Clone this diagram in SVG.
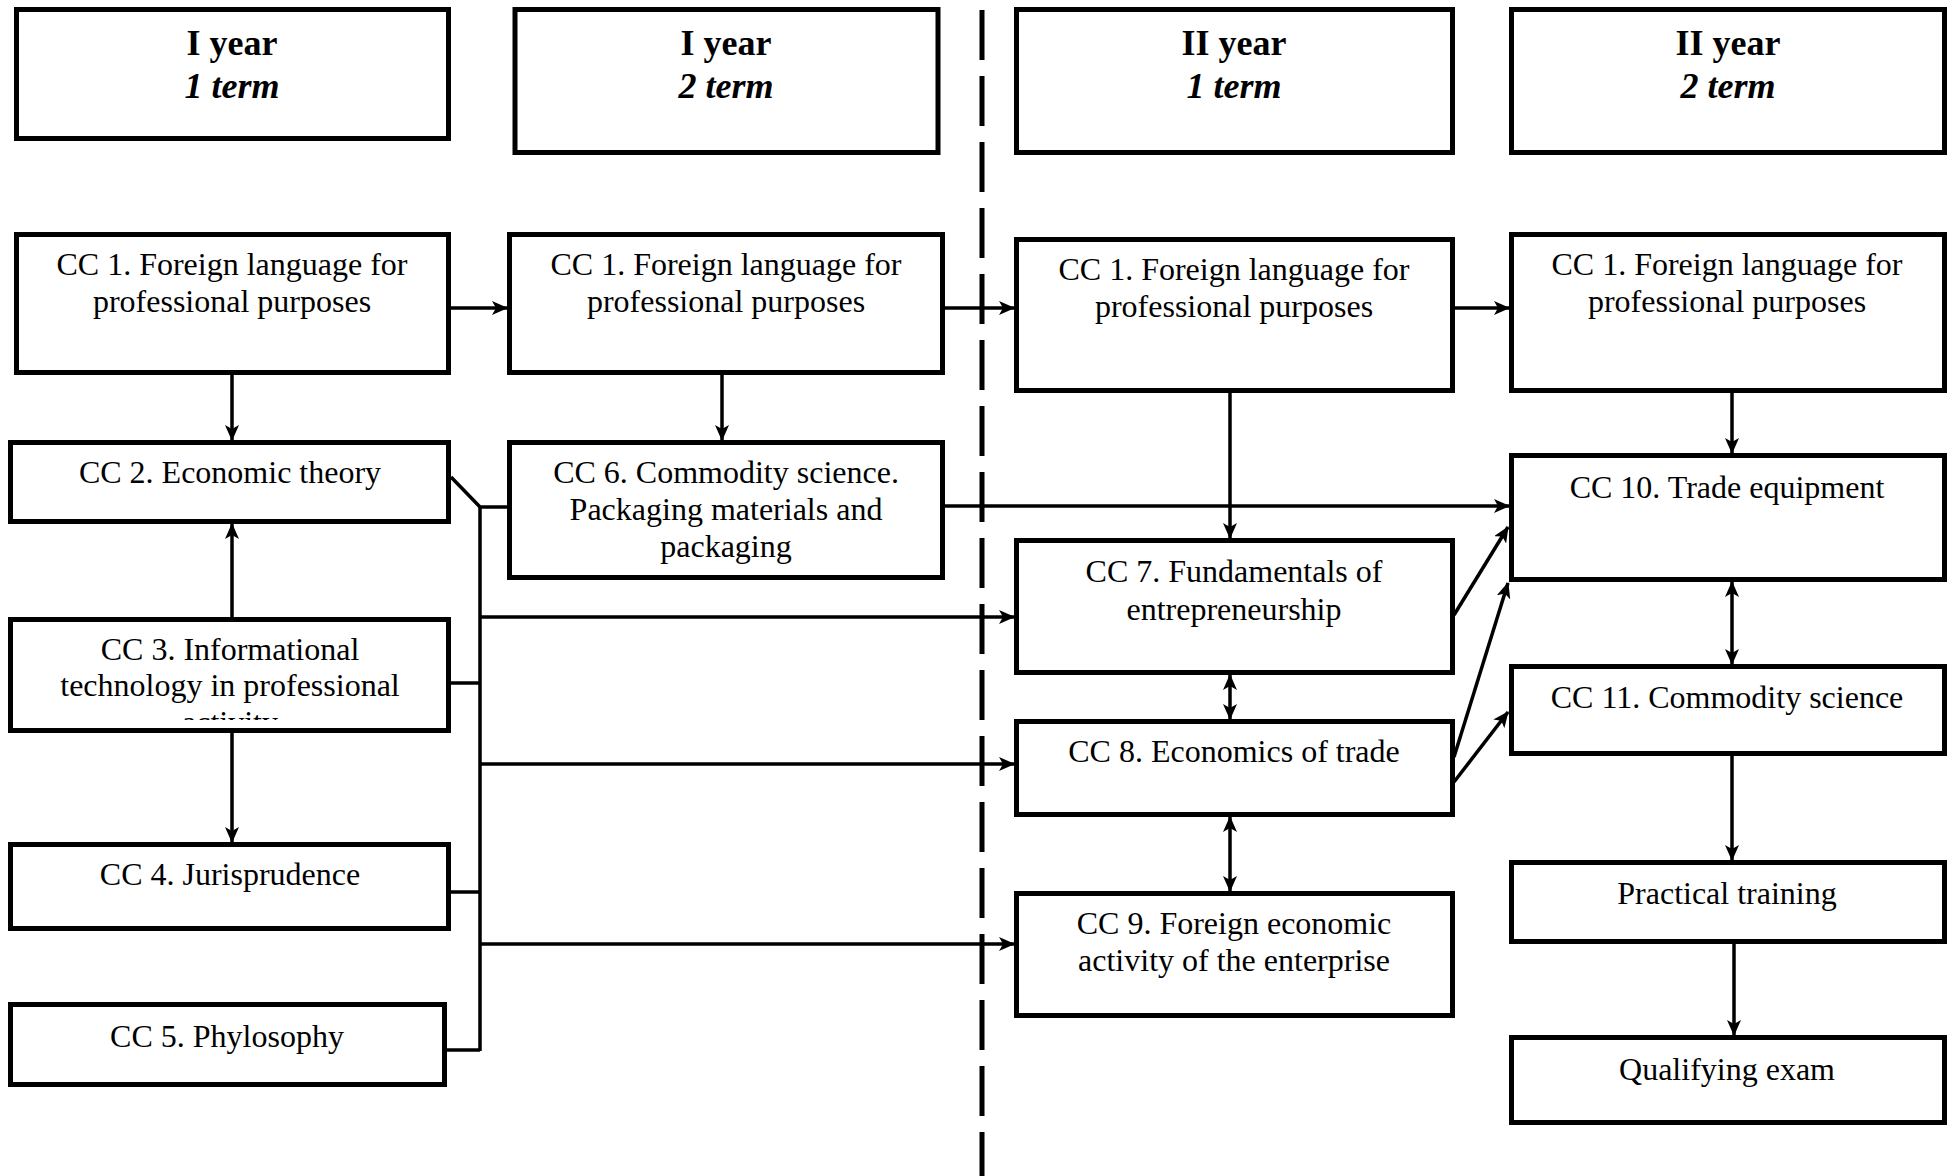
<svg xmlns="http://www.w3.org/2000/svg" width="1954" height="1176" viewBox="0 0 1954 1176">
<style>
.box{fill:#fff;stroke:#000;stroke-width:5}
.t{font-family:"Liberation Serif","Times New Roman",serif;font-size:32px;text-anchor:middle;fill:#000}
.h1{font-family:"Liberation Serif","Times New Roman",serif;font-size:36px;font-weight:bold;text-anchor:middle;fill:#000}
.h2{font-family:"Liberation Serif","Times New Roman",serif;font-size:36px;font-weight:bold;font-style:italic;text-anchor:middle;fill:#000}
.c{fill:none;stroke:#000;stroke-width:3.5}
.a{fill:none;stroke:#000;stroke-width:3.5;marker-end:url(#ah)}
.d{fill:none;stroke:#000;stroke-width:3.5;marker-start:url(#ah);marker-end:url(#ah)}
</style>
<defs>
<marker id="ah" markerUnits="userSpaceOnUse" markerWidth="16" markerHeight="14" viewBox="0 0 16 14" refX="15" refY="7" orient="auto-start-reverse">
<path d="M0,0 L16,7 L0,14 L4,7 z" fill="#000"/>
</marker>
<clipPath id="clip3"><rect x="10" y="600" width="440" height="120"/></clipPath>
</defs>
<rect width="1954" height="1176" fill="#fff"/>

<line x1="982" y1="10" x2="982" y2="1176" stroke="#000" stroke-width="5" stroke-dasharray="50 16"/>

<g id="header1"><rect class="box" x="16.5" y="9.5" width="432" height="129"/><text class="h1" x="232" y="55">I year</text><text class="h2" x="232" y="98">1 term</text></g>
<g id="header2"><rect class="box" x="515" y="9.5" width="423" height="143"/><text class="h1" x="726" y="55">I year</text><text class="h2" x="726" y="98">2 term</text></g>
<g id="header3"><rect class="box" x="1016.5" y="9.5" width="436" height="143"/><text class="h1" x="1234" y="55">II year</text><text class="h2" x="1234" y="98">1 term</text></g>
<g id="header4"><rect class="box" x="1511.5" y="9.5" width="433" height="143"/><text class="h1" x="1728" y="55">II year</text><text class="h2" x="1728" y="98">2 term</text></g>

<g id="connectors">
<line class="a" x1="451" y1="308" x2="507" y2="308"/>
<line class="a" x1="945" y1="308" x2="1014" y2="308"/>
<line class="a" x1="1455" y1="308" x2="1509" y2="308"/>
<line class="a" x1="232" y1="375" x2="232" y2="440"/>
<line class="a" x1="722" y1="375" x2="722" y2="440"/>
<line class="a" x1="232" y1="617" x2="232" y2="524"/>
<line class="a" x1="232" y1="733" x2="232" y2="842"/>
<line class="a" x1="1230" y1="393" x2="1230" y2="538"/>
<line class="a" x1="1732" y1="393" x2="1732" y2="453"/>
<line class="a" x1="945" y1="506" x2="1509" y2="506"/>
<polyline class="c" points="451,477 480,507 507,507"/>
<line class="c" x1="480" y1="507" x2="480" y2="1051"/>
<line class="c" x1="451" y1="683" x2="480" y2="683"/>
<line class="c" x1="451" y1="892" x2="480" y2="892"/>
<line class="c" x1="447" y1="1050" x2="480" y2="1050"/>
<line class="a" x1="480" y1="617" x2="1014" y2="617"/>
<line class="a" x1="480" y1="764" x2="1014" y2="764"/>
<line class="a" x1="480" y1="944" x2="1014" y2="944"/>
<line class="d" x1="1230" y1="675" x2="1230" y2="719"/>
<line class="d" x1="1230" y1="817" x2="1230" y2="891"/>
<line class="d" x1="1732" y1="582" x2="1732" y2="664"/>
<line class="a" x1="1732" y1="756" x2="1732" y2="860"/>
<line class="a" x1="1734" y1="944" x2="1734" y2="1035"/>
<line class="a" x1="1454" y1="615" x2="1508" y2="527"/>
<line class="a" x1="1454" y1="757" x2="1508" y2="583"/>
<line class="a" x1="1454" y1="782" x2="1508" y2="712"/>
</g>

<g id="cc1a"><rect class="box" x="16.5" y="234.5" width="432" height="138"/><text class="t" x="232" y="275">CC 1. Foreign language for</text><text class="t" x="232" y="312">professional purposes</text></g>
<g id="cc1b"><rect class="box" x="509.5" y="234.5" width="433" height="138"/><text class="t" x="726" y="275">CC 1. Foreign language for</text><text class="t" x="726" y="312">professional purposes</text></g>
<g id="cc1c"><rect class="box" x="1016.5" y="239.5" width="436" height="151"/><text class="t" x="1234" y="280">CC 1. Foreign language for</text><text class="t" x="1234" y="317">professional purposes</text></g>
<g id="cc1d"><rect class="box" x="1511.5" y="234.5" width="433" height="156"/><text class="t" x="1727" y="275">CC 1. Foreign language for</text><text class="t" x="1727" y="312">professional purposes</text></g>
<g id="cc2"><rect class="box" x="10.5" y="442.5" width="438" height="79"/><text class="t" x="230" y="483">CC 2. Economic theory</text></g>
<g id="cc6"><rect class="box" x="509.5" y="442.5" width="433" height="135"/><text class="t" x="726" y="483">CC 6. Commodity science.</text><text class="t" x="726" y="520">Packaging materials and</text><text class="t" x="726" y="557">packaging</text></g>
<g id="cc3"><rect class="box" x="10.5" y="619.5" width="438" height="111"/><g clip-path="url(#clip3)"><text class="t" x="230" y="660">CC 3. Informational</text><text class="t" x="230" y="696">technology in professional</text><text class="t" x="230" y="733">activity</text></g></g>
<g id="cc4"><rect class="box" x="10.5" y="844.5" width="438" height="84"/><text class="t" x="230" y="885">CC 4. Jurisprudence</text></g>
<g id="cc5"><rect class="box" x="10.5" y="1004.5" width="434" height="80"/><text class="t" x="227" y="1047">CC 5. Phylosophy</text></g>
<g id="cc7"><rect class="box" x="1016.5" y="540.5" width="436" height="132"/><text class="t" x="1234" y="582">CC 7. Fundamentals of</text><text class="t" x="1234" y="620">entrepreneurship</text></g>
<g id="cc8"><rect class="box" x="1016.5" y="721.5" width="436" height="93"/><text class="t" x="1234" y="762">CC 8. Economics of trade</text></g>
<g id="cc9"><rect class="box" x="1016.5" y="893.5" width="436" height="122"/><text class="t" x="1234" y="934">CC 9. Foreign economic</text><text class="t" x="1234" y="971">activity of the enterprise</text></g>
<g id="cc10"><rect class="box" x="1511.5" y="455.5" width="433" height="124"/><text class="t" x="1727" y="498">CC 10. Trade equipment</text></g>
<g id="cc11"><rect class="box" x="1511.5" y="666.5" width="433" height="87"/><text class="t" x="1727" y="708">CC 11. Commodity science</text></g>
<g id="practical"><rect class="box" x="1511.5" y="862.5" width="433" height="79"/><text class="t" x="1727" y="904">Practical training</text></g>
<g id="exam"><rect class="box" x="1511.5" y="1037.5" width="433" height="85"/><text class="t" x="1727" y="1080">Qualifying exam</text></g>
</svg>
